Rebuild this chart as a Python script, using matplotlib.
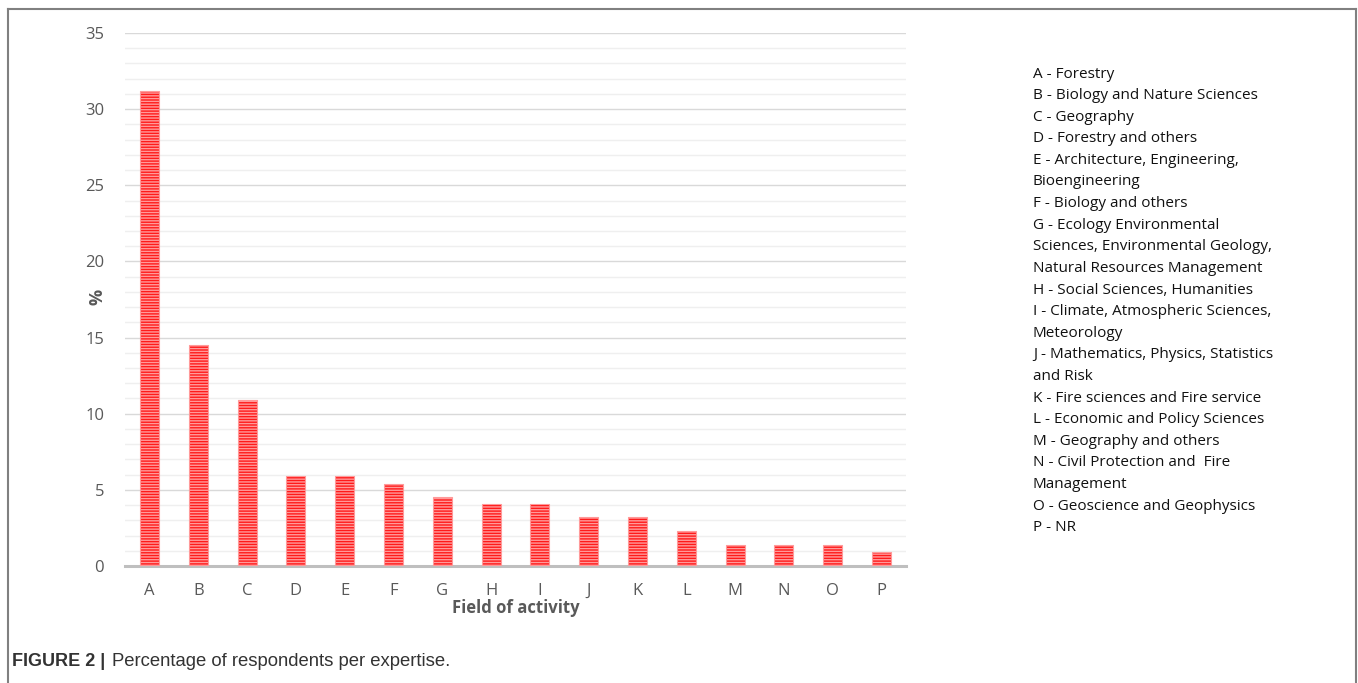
import matplotlib.pyplot as plt
from matplotlib.ticker import MultipleLocator

categories = ['A', 'B', 'C', 'D', 'E', 'F', 'G', 'H', 'I', 'J', 'K', 'L', 'M', 'N', 'O', 'P']
values = [31.2, 14.5, 10.9, 5.9, 5.9, 5.4, 4.5, 4.1, 4.1, 3.2, 3.2, 2.3, 1.4, 1.4, 1.4, 0.9]
legend_lines = [
    'A - Forestry',
    'B - Biology and Nature Sciences',
    'C - Geography',
    'D - Forestry and others',
    'E - Architecture, Engineering,',
    'Bioengineering',
    'F - Biology and others',
    'G - Ecology Environmental',
    'Sciences, Environmental Geology,',
    'Natural Resources Management',
    'H - Social Sciences, Humanities',
    'I - Climate, Atmospheric Sciences,',
    'Meteorology',
    'J - Mathematics, Physics, Statistics',
    'and Risk',
    'K - Fire sciences and Fire service',
    'L - Economic and Policy Sciences',
    'M - Geography and others',
    'N - Civil Protection and  Fire',
    'Management',
    'O - Geoscience and Geophysics',
    'P - NR',
]

plt.rcParams['hatch.linewidth'] = 1.0

fig = plt.figure(figsize=(13.58, 6.83), dpi=100)
ax = fig.add_axes([125 / 1358, 1 - 566 / 683, 781 / 1358, 533 / 683])

x = range(len(categories))
ax.bar(x, values, width=0.39, color='#ff1a1a', edgecolor='#ff9a9a',
       hatch='------', linewidth=0.8, zorder=3)

ax.set_xlim(-0.5, 15.5)
ax.set_ylim(0, 35)
ax.set_xticks(list(x))
ax.set_xticklabels(categories)
ax.yaxis.set_major_locator(MultipleLocator(5))
ax.yaxis.set_minor_locator(MultipleLocator(1))
ax.grid(axis='y', which='major', color='#d9d9d9', linewidth=1.0, zorder=0)
ax.grid(axis='y', which='minor', color='#efefef', linewidth=1.0, zorder=0)
for s in ['top', 'right', 'left']:
    ax.spines[s].set_visible(False)
ax.spines['bottom'].set_color('#bfbfbf')
ax.spines['bottom'].set_linewidth(2.2)
ax.tick_params(which='both', length=0, labelsize=12, labelcolor='#595959')
ax.tick_params(axis='x', pad=12)
ax.tick_params(axis='y', pad=15)
for lab in ax.get_xticklabels() + ax.get_yticklabels():
    lab.set_family('Open Sans')

ax.set_xlabel('Field of activity', fontsize=12, fontweight='bold', color='#595959',
              family='Open Sans', labelpad=0)
ax.set_ylabel('%', fontsize=13, fontweight='bold', color='#595959',
              family='Open Sans')
ax.yaxis.set_label_coords(-0.024, 0.505)

for i, line in enumerate(legend_lines):
    fig.text(1033 / 1358, 1 - (74 + i * 21.6) / 683, line, fontsize=11, family='Open Sans',
             color='#111111', va='center', ha='left')

fig.text(12 / 1358, 1 - 662 / 683, 'FIGURE 2 |', fontsize=13, fontweight='bold',
         family='Liberation Sans', color='#333333', va='center')
fig.text(112 / 1358, 1 - 662 / 683, 'Percentage of respondents per expertise.', fontsize=13.3,
         family='Liberation Sans', color='#333333', va='center')

# frame around the chart
fig.add_artist(plt.Line2D([8 / 1358, 8 / 1358], [0, 1 - 9 / 683], color='#808080',
                          linewidth=1.5, transform=fig.transFigure))
fig.add_artist(plt.Line2D([8 / 1358, 1356 / 1358], [1 - 9 / 683, 1 - 9 / 683], color='#808080',
                          linewidth=1.5, transform=fig.transFigure))
fig.add_artist(plt.Line2D([1356 / 1358, 1356 / 1358], [0, 1 - 9 / 683], color='#808080',
                          linewidth=1.5, transform=fig.transFigure))

fig.savefig('out.png', dpi=100)
